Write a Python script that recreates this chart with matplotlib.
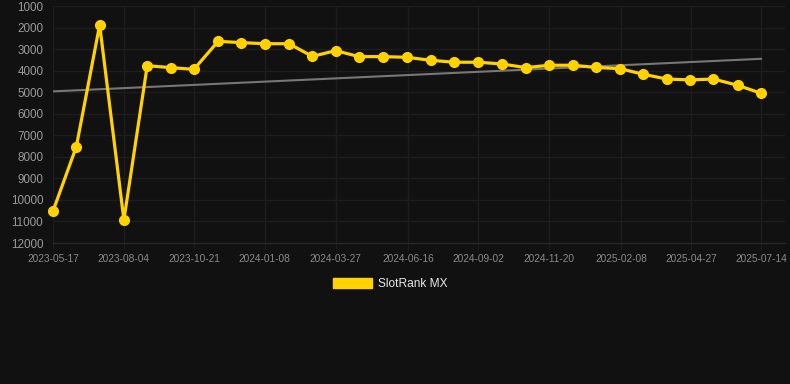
import pandas as pd
import matplotlib.pyplot as plt
import matplotlib.dates as mdates
from matplotlib.patches import Patch
import numpy as np

plt.rcParams['font.family'] = ['Liberation Sans', 'DejaVu Sans']

dates = ["2023-05-17", "2023-06-12", "2023-07-08", "2023-08-04", "2023-08-30",
         "2023-09-25", "2023-10-21", "2023-11-17", "2023-12-13", "2024-01-08",
         "2024-02-04", "2024-03-01", "2024-03-27", "2024-04-22", "2024-05-19",
         "2024-06-14", "2024-07-11", "2024-08-06", "2024-09-02", "2024-09-28",
         "2024-10-25", "2024-11-20", "2024-12-16", "2025-01-11", "2025-02-07",
         "2025-03-05", "2025-03-31", "2025-04-26", "2025-05-22", "2025-06-18",
         "2025-07-14"]
ranks = [10520, 7530, 1880, 10930, 3770, 3860, 3940, 2640, 2700, 2750,
         2750, 3340, 3070, 3350, 3350, 3380, 3520, 3610, 3610, 3690,
         3860, 3750, 3750, 3850, 3910, 4170, 4390, 4430, 4390, 4680,
         5050]
tick_dates = ["2023-05-17", "2023-08-04", "2023-10-21", "2024-01-08", "2024-03-27",
              "2024-06-16", "2024-09-02", "2024-11-20", "2025-02-08", "2025-04-27",
              "2025-07-14"]
y_ticks = list(range(1000, 12001, 1000))
series_name = "SlotRank MX"

bg = "#111111"
yellow = "#FFD200"

x = pd.to_datetime(dates)
xt = pd.to_datetime(tick_dates)

fig = plt.figure(figsize=(7.9, 3.84), dpi=100, facecolor=bg)
ax = fig.add_axes([53/790, 1-243/384, 732/790, 237/384], facecolor=bg)

# trend line (least squares fit over the points)
xn = mdates.date2num(x)
k, b = np.polyfit(xn, ranks, 1)
ax.plot(x[[0, -1]], k*xn[[0, -1]] + b, color="#777777", lw=1.5, zorder=2)

ax.plot(x, ranks, color=yellow, lw=2.3, marker="o", markersize=7,
        solid_joinstyle="miter", zorder=3, clip_on=False)

ax.set_ylim(12000, 1000)
ax.set_yticks(y_ticks)
ax.set_xlim(x[0], x[-1] + pd.Timedelta(days=26.7))
ax.set_xticks(xt)
ax.set_xticklabels(tick_dates)

ax.grid(True, color="#1d1d1d", lw=1)
ax.set_axisbelow(True)
for s in ax.spines.values():
    s.set_visible(False)
ax.spines["bottom"].set_visible(True)
ax.spines["bottom"].set_color("#2a2a2a")
ax.tick_params(axis="y", length=0, pad=7, labelsize=8.4, labelcolor="#9a9a9a")
ax.tick_params(axis="x", length=5, color="#1d1d1d", pad=3, labelsize=7.3, labelcolor="#8a8a8a")

fig.legend(handles=[Patch(facecolor=yellow, edgecolor=yellow)], labels=[series_name],
           loc="center", bbox_to_anchor=(390/790, 1-284/384), frameon=False,
           handlelength=3.3, handleheight=1.0, handletextpad=0.5,
           fontsize=8.6, labelcolor="#e8e8e8")

fig.savefig("out.png", dpi=100, facecolor=bg)
